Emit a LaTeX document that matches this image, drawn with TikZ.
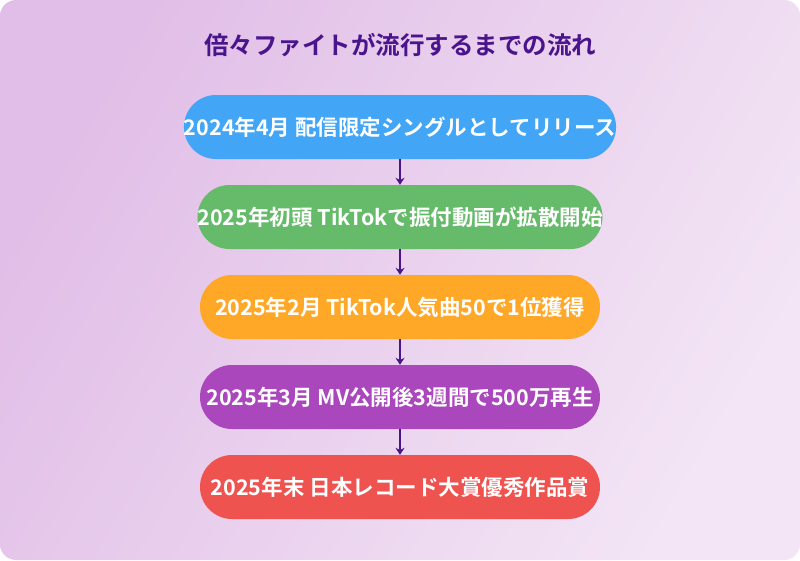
\documentclass[tikz,border=0pt]{standalone}
\usepackage{fontspec}
\newfontfamily\cjk{Noto Sans CJK JP Bold}
\usetikzlibrary{arrows.meta}
\definecolor{bgA}{HTML}{F3E5F5}
\definecolor{bgB}{HTML}{E1BEE7}
\definecolor{ttl}{HTML}{4A148C}
\definecolor{cA}{HTML}{42A5F5}
\definecolor{cB}{HTML}{66BB6A}
\definecolor{cC}{HTML}{FFA726}
\definecolor{cD}{HTML}{AB47BC}
\definecolor{cE}{HTML}{EF5350}
\tikzset{
  pill/.style={rounded corners=32pt,minimum width=400pt,minimum height=64pt,inner sep=0pt,text=white,font=\cjk\fontsize{21.5pt}{23pt}\selectfont},
  arr/.style={draw=ttl,line width=1.8pt,-{Stealth[length=7pt,width=9pt]}}
}
\begin{document}
\begin{tikzpicture}[x=1pt,y=-1pt]
\useasboundingbox (0,0) rectangle (800,560);
\shade[left color=bgB,right color=bgA,rounded corners=16pt,shading angle=60] (0,0) rectangle (800,560);
\node[text=ttl,font=\cjk\fontsize{24.5pt}{28pt}\selectfont] (title) at (400,45) {倍々ファイトが流行するまでの流れ};
\node[pill,fill=cA] (n1) at (400,127) {2024年4月 配信限定シングルとしてリリース};
\node[pill,fill=cB] (n2) at (400,217) {2025年初頭 TikTokで振付動画が拡散開始};
\node[pill,fill=cC] (n3) at (400,307) {2025年2月 TikTok人気曲50で1位獲得};
\node[pill,fill=cD] (n4) at (400,397) {2025年3月 MV公開後3週間で500万再生};
\node[pill,fill=cE] (n5) at (400,487) {2025年末 日本レコード大賞優秀作品賞};
\draw[arr] (n1) -- (n2);
\draw[arr] (n2) -- (n3);
\draw[arr] (n3) -- (n4);
\draw[arr] (n4) -- (n5);
\end{tikzpicture}
\end{document}
